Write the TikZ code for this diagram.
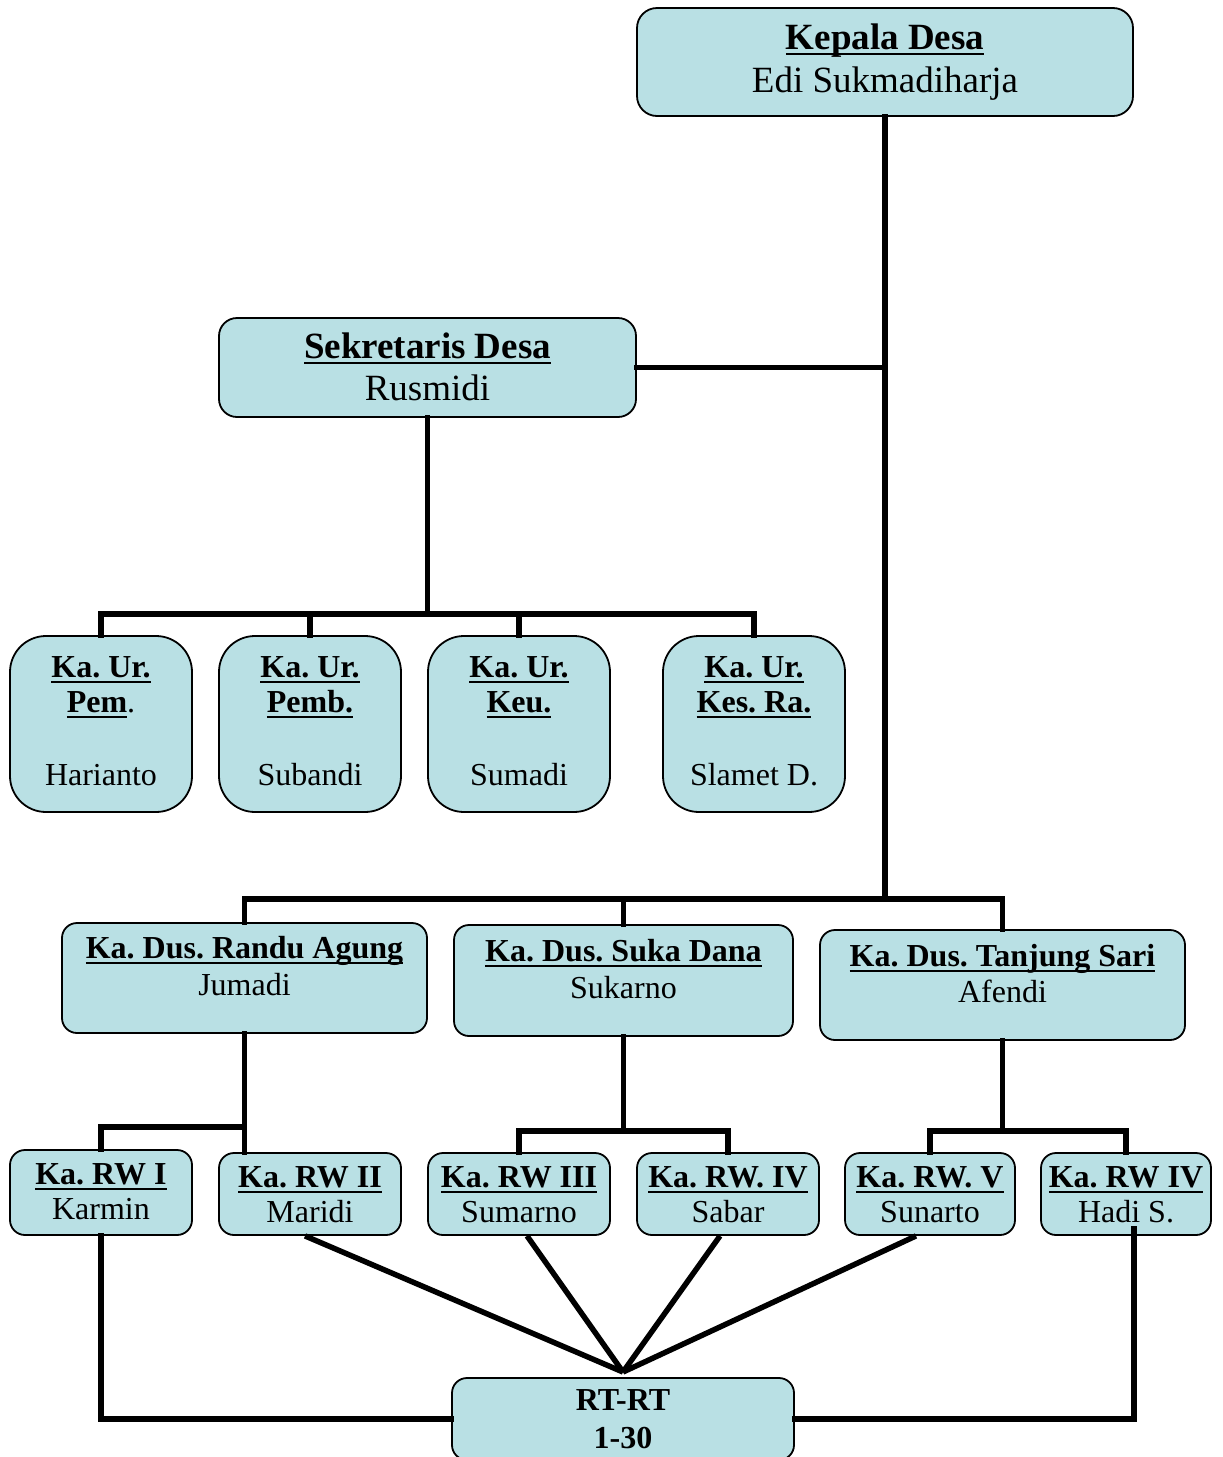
\documentclass[tikz,border=0pt]{standalone}
\usepackage{fontspec}
\setmainfont{Liberation Serif}
\usetikzlibrary{calc}
\definecolor{boxfill}{RGB}{185,224,228}
\newsavebox\ulbox
\newcommand\ulx[1]{\sbox\ulbox{#1}\rlap{\raisebox{-6pt}{\rule{\wd\ulbox}{2.4pt}}}\usebox\ulbox}
\frenchspacing
\begin{document}
\begin{tikzpicture}[x=1pt,y=-1pt,
  box/.style={draw=black, fill=boxfill, line width=1.8pt, inner sep=0pt, rounded corners=#1},
  box/.default=15pt,
  tb/.style={inner sep=0pt, anchor=base, font=\fontsize{37}{42}\selectfont},
  ts/.style={inner sep=0pt, anchor=base, font=\fontsize{32}{38}\selectfont},
  conn/.style={line width=5.5pt, line cap=rect, line join=miter}]
\useasboundingbox (0,0) rectangle (1223,1457);
\clip (0,0) rectangle (1223,1457);
\fill[white] (0,0) rectangle (1223,1457);

% boxes
\node[box=20pt, minimum width=496pt, minimum height=108pt] (kd) at (885,62) {};
\node[box=18pt, minimum width=417pt, minimum height=99pt] (sd) at (427.5,367.5) {};
\node[box=36pt, minimum width=182pt, minimum height=176pt] (ur1) at (101,724) {};
\node[box=36pt, minimum width=182pt, minimum height=176pt] (ur2) at (310,724) {};
\node[box=36pt, minimum width=182pt, minimum height=176pt] (ur3) at (519,724) {};
\node[box=36pt, minimum width=182pt, minimum height=176pt] (ur4) at (754,724) {};
\node[box, minimum width=365pt, minimum height=110pt] (dus1) at (244.5,978) {};
\node[box, minimum width=339pt, minimum height=111pt] (dus2) at (623.5,980.5) {};
\node[box, minimum width=365pt, minimum height=110pt] (dus3) at (1002.5,985) {};
\node[box, minimum width=182pt, minimum height=85pt] (rw1) at (101,1192.5) {};
\node[box, minimum width=182pt, minimum height=82pt] (rw2) at (310,1194) {};
\node[box, minimum width=182pt, minimum height=82pt] (rw3) at (519,1194) {};
\node[box, minimum width=182pt, minimum height=82pt] (rw4) at (728,1194) {};
\node[box, minimum width=170pt, minimum height=82pt] (rw5) at (930,1194) {};
\node[box, minimum width=170pt, minimum height=82pt] (rw6) at (1126,1194) {};
\node[box, minimum width=342pt, minimum height=82pt] (rt) at (623,1419) {};

% texts
\node[tb] (kd1) at (885,49) {\textbf{\ulx{Kepala Desa}}};
\node[tb] (kd2) at (885,92) {Edi Sukmadiharja};
\node[tb] (sd1) at (427.5,358) {\textbf{\ulx{Sekretaris Desa}}};
\node[tb] (sd2) at (427.5,400) {Rusmidi};

\node[ts] (ur1a) at (101,677) {\textbf{\ulx{Ka. Ur.}}};
\node[ts] (ur1b) at (101,712) {\textbf{\ulx{Pem}}.};
\node[ts] (ur1c) at (101,785) {Harianto};
\node[ts] (ur2a) at (310,677) {\textbf{\ulx{Ka. Ur.}}};
\node[ts] (ur2b) at (310,712) {\textbf{\ulx{Pemb.}}};
\node[ts] (ur2c) at (310,785) {Subandi};
\node[ts] (ur3a) at (519,677) {\textbf{\ulx{Ka. Ur.}}};
\node[ts] (ur3b) at (519,712) {\textbf{\ulx{Keu.}}};
\node[ts] (ur3c) at (519,785) {Sumadi};
\node[ts] (ur4a) at (754,677) {\textbf{\ulx{Ka. Ur.}}};
\node[ts] (ur4b) at (754,712) {\textbf{\ulx{Kes. Ra.}}};
\node[ts] (ur4c) at (754,785) {Slamet D.};

\node[ts] (d1a) at (244.5,958) {\textbf{\ulx{Ka. Dus. Randu Agung}}};
\node[ts] (d1b) at (244.5,995) {Jumadi};
\node[ts] (d2a) at (623.5,961) {\textbf{\ulx{Ka. Dus. Suka Dana}}};
\node[ts] (d2b) at (623.5,998) {Sukarno};
\node[ts] (d3a) at (1002.5,966) {\textbf{\ulx{Ka. Dus. Tanjung Sari}}};
\node[ts] (d3b) at (1002.5,1002) {Afendi};

\node[ts] (r1a) at (101,1184) {\textbf{\ulx{Ka. RW I}}};
\node[ts] (r1b) at (101,1219) {Karmin};
\node[ts] (r2a) at (310,1187) {\textbf{\ulx{Ka. RW II}}};
\node[ts] (r2b) at (310,1222) {Maridi};
\node[ts] (r3a) at (519,1187) {\textbf{\ulx{Ka. RW III}}};
\node[ts] (r3b) at (519,1222) {Sumarno};
\node[ts] (r4a) at (728,1187) {\textbf{\ulx{Ka. RW. IV}}};
\node[ts] (r4b) at (728,1222) {Sabar};
\node[ts] (r5a) at (930,1187) {\textbf{\ulx{Ka. RW. V}}};
\node[ts] (r5b) at (930,1222) {Sunarto};
\node[ts] (r6a) at (1126,1187) {\textbf{\ulx{Ka. RW IV}}};
\node[ts] (r6b) at (1126,1222) {Hadi S.};
\node[ts] (rta) at (623,1410) {\textbf{RT-RT}};
\node[ts] (rtb) at (623,1448) {\textbf{1-30}};

% junctions
\coordinate (jD) at (885,899);
\coordinate (jS) at (427.5,614);
\coordinate (j1) at (244.5,1127);
\coordinate (j2) at (623.5,1131);
\coordinate (j3) at (1002.5,1131);
\coordinate (cv) at (623,1372);

% connectors
\draw[conn] (kd.south) -- (jD);
\draw[conn] (sd.east) -- (sd.east -| kd.south);
\draw[conn] (sd.south) -- (jS);
\draw[conn] (ur1.north) -- (ur1.north |- jS) -- (ur4.north |- jS) -- (ur4.north);
\draw[conn] (ur2.north) -- (ur2.north |- jS);
\draw[conn] (ur3.north) -- (ur3.north |- jS);
\draw[conn] (dus1.north) -- (dus1.north |- jD) -- (dus3.north |- jD) -- (dus3.north);
\draw[conn] (dus2.north) -- (dus2.north |- jD);
\draw[conn] (dus1.south) -- (dus1.south |- rw2.north);
\draw[conn] (rw1.north) |- (j1);
\draw[conn] (dus2.south) -- (j2);
\draw[conn] (rw3.north) |- (j2) -| (rw4.north);
\draw[conn] (dus3.south) -- (j3);
\draw[conn] (rw5.north) |- (j3) -| (rw6.north);
\draw[conn, line cap=butt] ($(rw2.south)+(-5,0)$) -- (cv);
\draw[conn, line cap=butt] ($(rw3.south)+(8,0)$) -- (cv);
\draw[conn, line cap=butt] ($(rw4.south)+(-8,0)$) -- (cv);
\draw[conn, line cap=butt] ($(rw5.south)+(-14,0)$) -- (cv);
\draw[conn] (rw1.south) |- (rt.west);
\draw[conn] ($(rw6.south)+(8,-7)$) |- (rt.east);
\end{tikzpicture}
\end{document}
